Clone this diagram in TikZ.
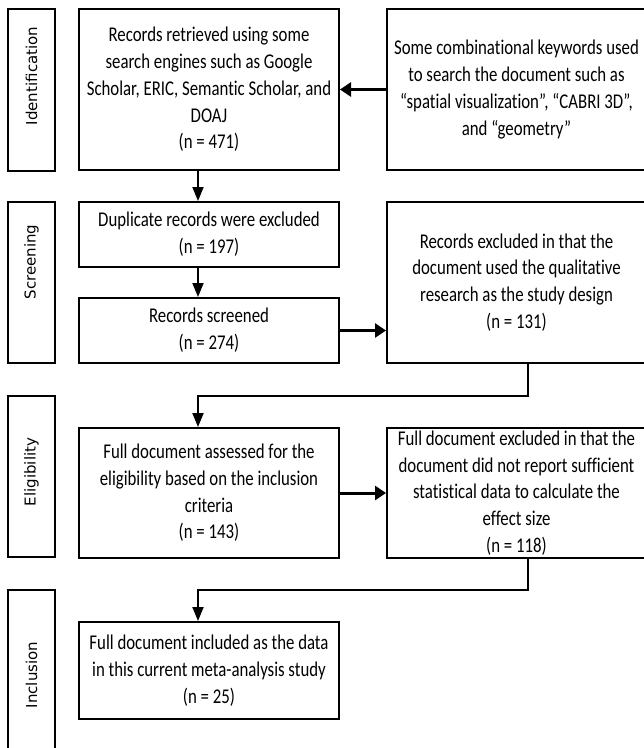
\documentclass[tikz,border=0pt]{standalone}
\usepackage{fontspec}
\usetikzlibrary{arrows.meta}
\newfontfamily\boxfont[FakeStretch=0.8,Ligatures=NoCommon]{Carlito}
\newfontfamily\labfont{DejaVu Sans}
\begin{document}
\begin{tikzpicture}[x=1pt,y=-1pt,
  box/.style={draw,line width=2pt,inner sep=0pt,align=center,
    font=\boxfont\fontsize{21}{26.7}\selectfont,minimum width=260pt},
  rbox/.style={box,minimum width=259pt},
  lab/.style={draw,line width=2pt,minimum width=47pt,inner sep=0pt},
  labtext/.style={rotate=90,font=\labfont\fontsize{15}{17}\selectfont,inner sep=0pt},
  varr/.style={line width=1.8pt,-{Triangle[length=14pt,width=11pt]}},
  harr/.style={line width=3pt,-{Triangle[length=11pt,width=14pt]}}
]
\useasboundingbox (0,0) rectangle (644,748);
\clip (0,0) rectangle (644,748);

% stage labels
\node[lab,minimum height=162pt] (l1) at (31.5,90) {};
\node[labtext] (t1) at (31.5,76) {Identification};
\node[lab,minimum height=161pt] (l2) at (31.5,282.5) {};
\node[labtext] (t2) at (31.5,262) {Screening};
\node[lab,minimum height=161pt] (l3) at (31.5,476.5) {};
\node[labtext] (t3) at (31.5,472) {Eligibility};
\node[lab,minimum height=170pt] (l4) at (31.5,675) {};
\node[labtext] (t4) at (31.5,675) {Inclusion};

% boxes
\node[box,minimum height=161pt] (b1) at (209,89.5)
  {Records retrieved using some\\search engines such as Google\\Scholar, ERIC, Semantic Scholar, and\\DOAJ\\(n = 471)};
\node[rbox,minimum height=161pt] (r1) at (516.5,89.5)
  {Some combinational keywords used\\to search the document such as\\“spatial visualization”, “CABRI 3D”,\\and “geometry”};
\node[box,minimum height=65pt] (dup) at (209,234.5)
  {Duplicate records were excluded\\(n = 197)};
\node[box,minimum height=65pt] (scr) at (209,330.5)
  {Records screened\\(n = 274)};
\node[rbox,minimum height=161pt] (r2) at (516.5,282.5)
  {Records excluded in that the\\document used the qualitative\\research as the study design\\(n = 131)};
\node[box,minimum height=130pt] (el) at (209,493)
  {Full document assessed for the\\eligibility based on the inclusion\\criteria\\(n = 143)};
\node[rbox,minimum height=130pt] (r3) at (516.5,493)
  {Full document excluded in that the\\document did not report sufficient\\statistical data to calculate the\\effect size\\(n = 118)};
\node[box,minimum height=97pt] (inc) at (209,670.5)
  {Full document included as the data\\in this current meta-analysis study\\(n = 25)};

% connectors
\draw[harr] (r1.west) -- (b1.east);
\draw[varr] ([xshift=-11pt]b1.south) -- ([xshift=-11pt]dup.north);
\draw[varr] ([xshift=-11pt]dup.south) -- ([xshift=-11pt]scr.north);
\draw[harr] (scr.east) -- (scr.east -| r2.west);
\draw[harr] (el.east) -- (r3.west);

\coordinate (k1) at (528,396);
\coordinate (k2) at (198,396);
\draw[varr,line width=2pt] (r2.south -| k1) -- (k1) -- (k2) -- (k2 |- el.north);
\coordinate (k3) at (528,590);
\coordinate (k4) at (198,590);
\draw[varr,line width=2pt] (r3.south -| k3) -- (k3) -- (k4) -- (k4 |- inc.north);
\end{tikzpicture}
\end{document}
